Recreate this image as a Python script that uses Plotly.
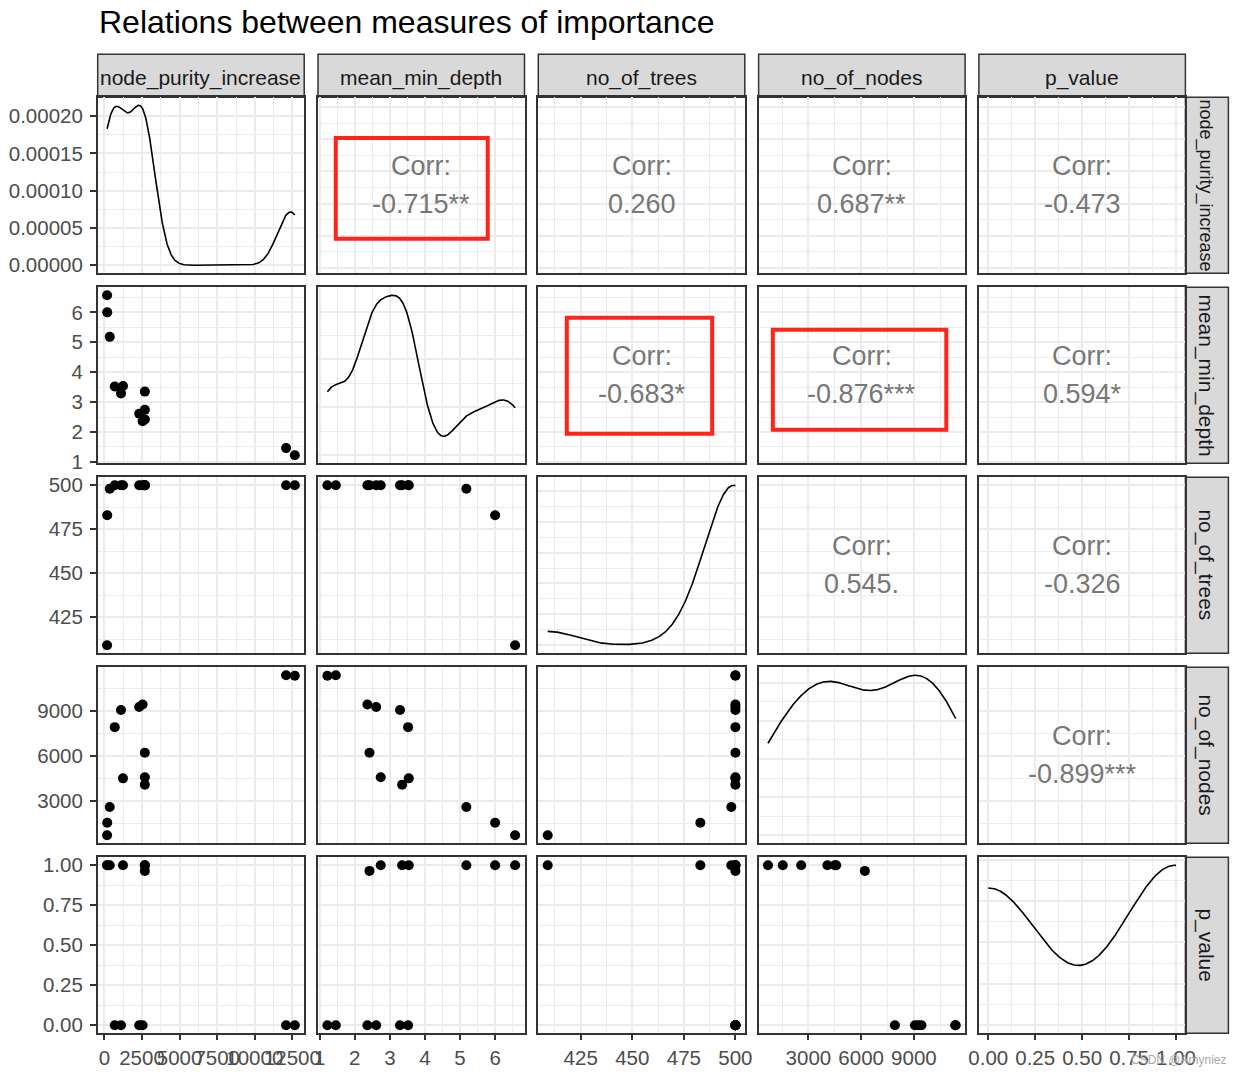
import numpy as np
import plotly.graph_objects as go

# ---------------- data ----------------
variables = ["node_purity_increase", "mean_min_depth", "no_of_trees", "no_of_nodes", "p_value"]

node_purity_increase = [180, 190, 357, 690, 1105, 1237, 2315, 2540, 2690, 2690, 2690, 12080, 12660]
mean_min_depth = [6.57, 6.00, 5.18, 3.52, 3.29, 3.54, 2.61, 2.36, 2.42, 2.74, 3.35, 1.46, 1.22]
no_of_trees = [409, 483, 498, 500, 500, 500, 500, 500, 500, 500, 500, 500, 500]
no_of_nodes = [700, 1540, 2590, 7920, 9060, 4500, 9260, 9430, 6210, 4580, 4080, 11380, 11350]
p_value = [1.0, 1.0, 1.0, 0.0, 0.0, 1.0, 0.0, 0.0, 0.965, 1.0, 1.0, 0.0, 0.0]

# tick labels per variable
npi_ticks = [0, 2500, 5000, 7500, 10000, 12500]
depth_ticks = [1, 2, 3, 4, 5, 6]
trees_ticks = [425, 450, 475, 500]
nodes_ticks = [3000, 6000, 9000]
p_ticks = [0.0, 0.25, 0.50, 0.75, 1.00]
density_ticks_row1 = [0.0, 0.00005, 0.00010, 0.00015, 0.00020]

# correlation labels (upper panels)
corr_labels = {
    (0, 1): "-0.715**", (0, 2): "0.260", (0, 3): "0.687**", (0, 4): "-0.473",
    (1, 2): "-0.683*", (1, 3): "-0.876***", (1, 4): "0.594*",
    (2, 3): "0.545.", (2, 4): "-0.326",
    (3, 4): "-0.899***",
}
corr_head = "Corr:"
title_text = "Relations between measures of importance"
watermark_text = "CSDN @Amyniez"

columns = [node_purity_increase, mean_min_depth, no_of_trees, no_of_nodes, p_value]
ticks = [npi_ticks, depth_ticks, trees_ticks, nodes_ticks, p_ticks]
tickfmt = ["d", "d", "d", "d", ".2f"]

# ---------------- geometry / style ----------------
W, H = 1243, 1077
def X(px): return px / W
def Y(py): return 1 - py / H

col_left0, col_step, pw = 97.7, 220.3, 206.5
row_top0, row_step, ph = 97.3, 190.0, 176.0
strip_h = 43.0

GRID = "#EBEBEB"
BORDER = "#333333"
TICKC = "#4D4D4D"
FONT = "Liberation Sans, Arial, sans-serif"
TICKSIZE = 20.5


def kde(vals):
    x = np.asarray(vals, float)
    n = len(x)
    sd = x.std(ddof=1)
    q75, q25 = np.percentile(x, [75, 25])
    lo = min(sd, (q75 - q25) / 1.34)
    if lo == 0:
        lo = sd if sd > 0 else (abs(x[0]) if x[0] != 0 else 1.0)
    bw = 0.9 * lo * n ** -0.2
    grid = np.linspace(x.min(), x.max(), 512)
    d = np.exp(-0.5 * ((grid[:, None] - x[None, :]) / bw) ** 2).sum(1) / (n * bw * np.sqrt(2 * np.pi))
    return grid, d


def expand(lo, hi):
    s = hi - lo
    return [lo - 0.05 * s, hi + 0.05 * s]


def minor_of(t):
    s = t[1] - t[0]
    return [t[0] - s / 2 + i * s for i in range(len(t) + 1)]


def nice_ticks(lo, hi):
    span = hi - lo
    raw = span / 4.5
    mag = 10 ** np.floor(np.log10(raw))
    steps = [m * mag for m in (1, 2, 2.5, 5, 10)]
    step = min(steps, key=lambda s: abs(span / s - 4.5))
    start = np.ceil(lo / step) * step
    return list(np.arange(start, hi + step * 0.001, step))


fig = go.Figure()
layout = dict(
    width=W, height=H, margin=dict(l=0, r=0, t=0, b=0, pad=0, autoexpand=False),
    plot_bgcolor="white", paper_bgcolor="white",
    font=dict(family=FONT, color=TICKC), showlegend=False,
)
annotations = []
shapes = []

for r in range(5):
    for c in range(5):
        k = r * 5 + c + 1
        xs = "" if k == 1 else str(k)
        x0 = col_left0 + c * col_step
        y0 = row_top0 + r * row_step
        xdom = [X(x0), X(x0 + pw)]
        ydom = [Y(y0 + ph), Y(y0)]

        xvals = columns[c]
        xrange_ = expand(min(xvals), max(xvals))
        xt = ticks[c]

        base = dict(showgrid=True, gridcolor=GRID, gridwidth=2, zeroline=False,
                    showline=True, linecolor=BORDER, linewidth=1.5, mirror=True,
                    minor=dict(showgrid=True, gridcolor=GRID, gridwidth=1, tickmode="array"),
                    tickfont=dict(size=TICKSIZE, color=TICKC, family=FONT),
                    automargin=False)

        xa = dict(base, domain=xdom, anchor="y" + xs, range=xrange_, tickmode="array",
                  tickvals=xt, ticktext=[format(v, tickfmt[c]) for v in xt], tickangle=0,
                  ticklabelstandoff=0)
        xa["minor"] = dict(base["minor"], tickvals=minor_of(xt))
        if r == 4:
            xa.update(showticklabels=True, ticks="outside", ticklen=5, tickwidth=1.5, tickcolor=BORDER)
        else:
            xa.update(showticklabels=False, ticks="")

        if r == c:
            gx, gd = kde(xvals)
            yr = expand(0.0, gd.max())  # density area baseline at 0
            yt = density_ticks_row1 if r == 0 else nice_ticks(yr[0], yr[1])
            ya = dict(base, domain=ydom, anchor="x" + xs, range=yr, tickmode="array",
                      tickvals=yt, ticktext=[format(v, ".5f") for v in yt], ticklabelstandoff=3)
            ya["minor"] = dict(base["minor"], tickvals=minor_of(yt))
            fig.add_trace(go.Scatter(x=gx, y=gd, mode="lines", line=dict(color="black", width=1.6),
                                     xaxis="x" + xs, yaxis="y" + xs, hoverinfo="skip"))
        else:
            yvals = columns[r]
            yr = expand(min(yvals), max(yvals))
            yt = ticks[r]
            ya = dict(base, domain=ydom, anchor="x" + xs, range=yr, tickmode="array",
                      tickvals=yt, ticktext=[format(v, tickfmt[r]) for v in yt], ticklabelstandoff=3)
            ya["minor"] = dict(base["minor"], tickvals=minor_of(yt))
            if r > c:
                fig.add_trace(go.Scatter(x=xvals, y=yvals, mode="markers",
                                         marker=dict(color="black", size=10),
                                         xaxis="x" + xs, yaxis="y" + xs))
            else:
                fig.add_trace(go.Scatter(x=[], y=[], mode="markers", xaxis="x" + xs, yaxis="y" + xs))
                for txt, shift in ((corr_head, 19), (corr_labels[(r, c)], -19)):
                    annotations.append(dict(
                        xref=f"x{xs} domain", yref=f"y{xs} domain", x=0.5, y=0.5, yshift=shift,
                        xanchor="center", yanchor="middle",
                        text=txt, showarrow=False,
                        font=dict(size=27, color="#777777", family=FONT)))
        if c == 0:
            ya.update(showticklabels=True, ticks="outside", ticklen=6, tickwidth=1.5, tickcolor=BORDER)
        else:
            ya.update(showticklabels=False, ticks="")

        layout["xaxis" + xs] = xa
        layout["yaxis" + xs] = ya

# strips
for c in range(5):
    x0 = col_left0 + c * col_step
    shapes.append(dict(type="rect", xref="paper", yref="paper",
                       x0=X(x0), x1=X(x0 + pw), y0=Y(row_top0), y1=Y(row_top0 - strip_h),
                       fillcolor="#D9D9D9", line=dict(color=BORDER, width=1.5), layer="below"))
    annotations.append(dict(xref="paper", yref="paper", x=X(x0 + pw / 2), y=Y(row_top0 - strip_h / 2 + 2),
                            xanchor="center", yanchor="middle",
                            text=variables[c], showarrow=False,
                            font=dict(size=21, color="#1A1A1A", family=FONT)))
rx0 = col_left0 + 4 * col_step + pw
for r in range(5):
    y0 = row_top0 + r * row_step
    shapes.append(dict(type="rect", xref="paper", yref="paper",
                       x0=X(rx0), x1=X(rx0 + strip_h), y0=Y(y0 + ph), y1=Y(y0),
                       fillcolor="#D9D9D9", line=dict(color=BORDER, width=1.5), layer="below"))
    annotations.append(dict(xref="paper", yref="paper", x=X(rx0 + strip_h / 2 - 1), y=Y(y0 + ph / 2),
                            xanchor="center", yanchor="middle",
                            text=variables[r], showarrow=False, textangle=90,
                            font=dict(size=21 if r != 0 else 18, color="#1A1A1A", family=FONT)))

# red highlight boxes
highlight = [((0, 1), 0.086, 0.822, 0.197, 0.769),
             ((1, 2), 0.138, 0.842, 0.168, 0.827),
             ((1, 3), 0.069, 0.909, 0.190, 0.759)]
for (r, c), a0, a1, b0, b1 in highlight:
    k = r * 5 + c + 1
    shapes.append(dict(type="rect", xref=f"x{k} domain", yref=f"y{k} domain",
                       x0=a0, x1=a1, y0=b0, y1=b1,
                       line=dict(color="#FF2418", width=4), layer="above"))

annotations.append(dict(xref="paper", yref="paper", x=X(97), y=Y(22), xanchor="left", yanchor="middle",
                        text=title_text, showarrow=False, font=dict(size=32, color="black", family=FONT)))
annotations.append(dict(xref="paper", yref="paper", x=X(1229), y=Y(1060), xanchor="right", yanchor="middle",
                        text=watermark_text, showarrow=False, font=dict(size=12, color="#AAAAAA", family=FONT)))

layout["annotations"] = annotations
layout["shapes"] = shapes
fig.update_layout(**layout)
fig.write_html("out.html")
